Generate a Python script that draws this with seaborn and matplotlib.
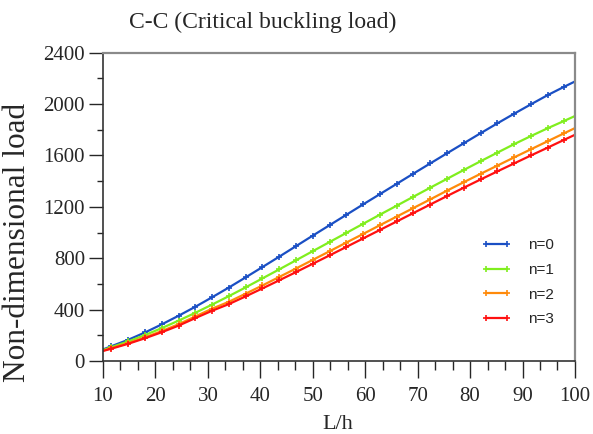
import numpy as np
import pandas as pd
import matplotlib
matplotlib.use("Agg")
import matplotlib.pyplot as plt
from matplotlib.ticker import MultipleLocator
from matplotlib.lines import Line2D
from matplotlib.legend_handler import HandlerLine2D
import seaborn as sns

# data
LH = [10, 11.6, 14.8, 18.0, 21.2, 24.4, 27.6, 30.8, 34.0, 37.2, 40.4, 43.6, 46.8, 50.0, 53.2,
      56.4, 59.6, 62.8, 66.0, 69.2, 72.4, 75.6, 78.8, 82.0, 85.2, 88.4, 91.6, 94.8, 98.0, 100]
n0 = [90, 115, 165, 222, 285, 352, 422, 496, 572, 651, 731, 812, 894, 976, 1057,
      1138, 1219, 1299, 1379, 1459, 1538, 1617, 1695, 1773, 1850, 1925, 1998, 2070, 2136, 2176]
n1 = [85, 108, 152, 202, 256, 314, 375, 439, 505, 573, 643, 713, 784, 855, 926,
      997, 1068, 1139, 1209, 1279, 1349, 1418, 1487, 1555, 1622, 1688, 1751, 1812, 1870, 1907]
n2 = [81, 100, 139, 184, 233, 286, 347, 407, 461, 524, 588, 654, 720, 787, 854,
      922, 989, 1057, 1124, 1191, 1258, 1326, 1392, 1457, 1521, 1585, 1648, 1711, 1774, 1813]
n3 = [78, 96, 134, 177, 224, 275, 334, 391, 443, 503, 565, 628, 692, 757, 822,
      888, 954, 1020, 1086, 1152, 1218, 1284, 1349, 1413, 1476, 1538, 1600, 1661, 1723, 1761]
labels = ["n=0", "n=1", "n=2", "n=3"]
colors = ["#1a4fc4", "#80ee1e", "#ff8a0a", "#ff1010"]

df = pd.DataFrame({
    "L/h": LH * 4,
    "load": n0 + n1 + n2 + n3,
    "series": np.repeat(labels, len(LH)),
})

sns.set_style("ticks")
plt.rcParams["font.family"] = ["Liberation Serif", "DejaVu Serif"]

fig = plt.figure(figsize=(5.93, 4.34), dpi=100)
ax = fig.add_axes([0.1737, 0.1682, 0.7959, 0.7104])

sns.lineplot(data=df, x="L/h", y="load", hue="series", palette=colors,
             estimator=None, sort=False, legend=False, ax=ax,
             marker="+", markersize=5, markeredgewidth=1.2, linewidth=1.6,
             linestyle="-", markevery=slice(1, -1))
# seaborn paints marker edges white; the "+" needs the line colour
for line, c in zip(ax.lines, colors):
    line.set_markeredgecolor(c)
    line.set_linestyle("-")

ax.set_xlim(10, 100)
ax.set_ylim(0, 2400)
ax.xaxis.set_major_locator(MultipleLocator(10))
ax.xaxis.set_minor_locator(MultipleLocator(10 / 3))
ax.yaxis.set_major_locator(MultipleLocator(400))
ax.yaxis.set_minor_locator(MultipleLocator(200))
ax.tick_params(axis="x", which="major", direction="out", length=12, width=1, pad=7, labelsize=15)
ax.tick_params(axis="x", which="minor", direction="out", length=6.5, width=1)
ax.tick_params(axis="y", which="major", direction="out", length=10, width=1, pad=3, labelsize=15)
ax.tick_params(axis="y", which="minor", direction="out", length=4.5, width=1)

for s in ["left", "bottom"]:
    ax.spines[s].set_color("#333333")
    ax.spines[s].set_linewidth(1.2)
for s in ["top", "right"]:
    ax.spines[s].set_color("#8a8a8a")
    ax.spines[s].set_linewidth(1.6)

ax.set_xlabel("")
ax.set_ylabel("")
fig.text(0.570, 0.022, "L/h", ha="center", va="center", fontsize=16)
fig.text(0.030, 0.442, "Non-dimensional load", ha="center", va="center",
         rotation=90, fontsize=22.5)
fig.text(0.443, 0.949, "C-C (Critical buckling load)", ha="center", va="center", fontsize=17)

leg = ax.legend(ax.lines[:4], labels, loc="center left", bbox_to_anchor=(0.79, 0.255),
                frameon=False, borderpad=0, borderaxespad=0, handlelength=2.7,
                handletextpad=0.7, labelspacing=0.7,
                prop={"family": "Liberation Sans", "size": 11},
                handler_map={Line2D: HandlerLine2D(marker_pad=0.65, numpoints=2)})

fig.savefig("out.png", dpi=100)
